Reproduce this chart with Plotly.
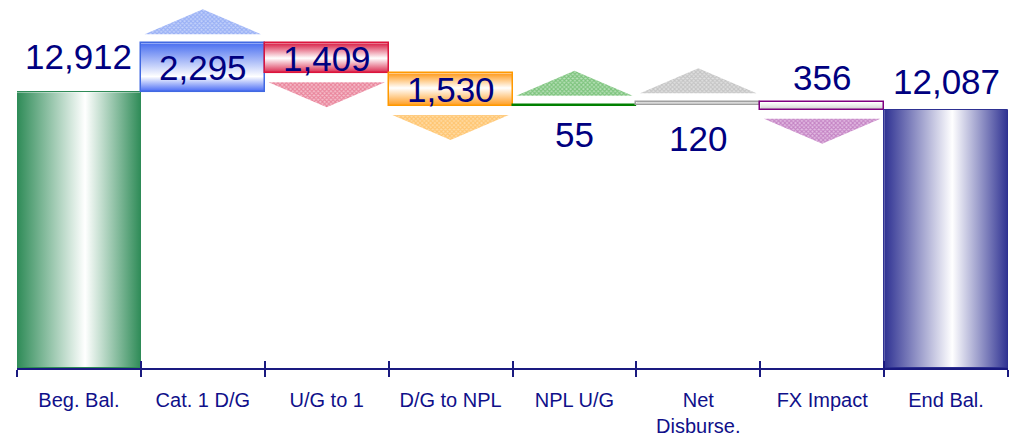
import base64
import plotly.graph_objects as go

# ---- data ----
categories = ["Beg. Bal.", "Cat. 1 D/G", "U/G to 1", "D/G to NPL",
              "NPL U/G", "Net<br>Disburse.", "FX Impact", "End Bal."]
amounts = [12912, 2295, -1409, -1530, 55, 120, -356, 12087]
is_total = [True, False, False, False, False, False, False, True]

# ---- styling ----
NAVY = "#000080"
FONT = "Liberation Sans"
edge_colors = ["#2e8b57", "#4169e1", "#dc143c", "#ff9900",
               "#008000", "#a0a0a0", "#800080", "#2e3192"]
# gradient stops (offset, colour) and direction for each bar
gradients = [
    ("h", [(0, "#2e8b57"), (0.55, "#ffffff"), (1, "#2e8b57")]),
    ("v", [(0, "#4a6ff0"), (0.68, "#ffffff"), (1, "#3f63f5")]),
    ("v", [(0, "#d81e45"), (0.5, "#ffffff"), (1, "#d81e45")]),
    ("v", [(0, "#ff9a1a"), (0.45, "#ffffff"), (1, "#ff9a1a")]),
    ("v", [(0, "#008000"), (1, "#008000")]),
    ("v", [(0, "#b0b0b0"), (0.5, "#f4f4f4"), (1, "#b0b0b0")]),
    ("v", [(0, "#ffffff"), (0.5, "#e8e8e8"), (1, "#c8c8c8")]),
    ("h", [(0, "#2e3192"), (0.55, "#ffffff"), (1, "#2e3192")]),
]
edge_widths = [1, 1.5, 1.5, 1.5, 1.5, 1.5, 1.5, 1]
# (dot colour, background tint) of the dithered arrow fills
arrow_colors = [None,
                ("#6f8ff0", "#c3d1fa"),
                ("#de4a6c", "#f5bfcb"),
                ("#ffad3a", "#ffdca6"),
                ("#3fa53f", "#b8e0b8"),
                ("#a8a8a8", "#e0e0e0"),
                ("#a64ca6", "#e3bde3"),
                None]
label_pos = ["above", "inside", "inside", "inside", "below", "below", "above", "above"]
label_gap_px = [36, 0, 0, 0, 29, 34, 25, 28]

# ---- geometry ----
W, H = 1020, 443
M_L, M_R, M_T, M_B = 17, 12, 0, 75
plot_h = H - M_T - M_B
y_max = 17228
ppu = plot_h / y_max          # pixels per unit on the value axis

bases, heights = [], []
running = 0
for v, tot in zip(amounts, is_total):
    if tot:
        bases.append(0)
        heights.append(v)
        running = v
    elif v >= 0:
        bases.append(running)
        heights.append(v)
        running += v
    else:
        running += v
        bases.append(running)
        heights.append(-v)


def gradient_uri(direction, stops):
    x2, y2 = ("1", "0") if direction == "h" else ("0", "1")
    stop_xml = "".join(
        f'<stop offset="{o}" stop-color="{c}"/>' for o, c in stops)
    svg = ('<svg xmlns="http://www.w3.org/2000/svg" width="100" height="100" '
           'viewBox="0 0 100 100" preserveAspectRatio="none">'
           f'<defs><linearGradient id="g" x1="0" y1="0" x2="{x2}" y2="{y2}">'
           f'{stop_xml}</linearGradient></defs>'
           '<rect width="100" height="100" fill="url(#g)"/></svg>')
    return "data:image/svg+xml;base64," + base64.b64encode(svg.encode()).decode()


fig = go.Figure()

# bar outlines (fill comes from the gradient images underneath)
fig.add_trace(go.Bar(
    x=categories, y=heights, base=bases, width=1,
    marker=dict(color="rgba(0,0,0,0)",
                line=dict(color=edge_colors, width=edge_widths)),
    hoverinfo="skip", showlegend=False,
))

images = []
for i, (b, h) in enumerate(zip(bases, heights)):
    direction, stops = gradients[i]
    images.append(dict(
        source=gradient_uri(direction, stops), xref="x", yref="y",
        x=i - 0.5, y=b + h, sizex=1, sizey=h,
        xanchor="left", yanchor="top", sizing="stretch", layer="below",
    ))

# direction arrows for the movements
arrow_gap, arrow_h, arrow_hw = 9 / ppu, 25 / ppu, 0.47
for i, v in enumerate(amounts):
    if is_total[i]:
        continue
    if v >= 0:
        y0 = bases[i] + heights[i] + arrow_gap
        y1 = y0 + arrow_h
    else:
        y0 = bases[i] - arrow_gap
        y1 = y0 - arrow_h
    fg, bg = arrow_colors[i]
    fig.add_trace(go.Scatter(
        x=[i - arrow_hw, i + arrow_hw, i, i - arrow_hw],
        y=[y0, y0, y1, y0],
        xaxis="x2", mode="lines", line=dict(width=0),
        fill="toself", fillcolor=bg,
        fillpattern=dict(shape="x", size=3, solidity=0.6,
                         fgcolor=fg, bgcolor=bg),
        hoverinfo="skip", showlegend=False,
    ))

# value labels
annotations = []
for i, v in enumerate(amounts):
    b, h = bases[i], heights[i]
    pos = label_pos[i]
    if pos == "above":
        y, shift = b + h, label_gap_px[i]
    elif pos == "below":
        y, shift = b, -label_gap_px[i]
    else:
        y, shift = b + h / 2, 0
    annotations.append(dict(
        x=i, y=y, xref="x2", yref="y", yshift=shift,
        text=f"{abs(v):,}", showarrow=False,
        xanchor="center", yanchor="middle",
        font=dict(family=FONT, size=35, color=NAVY),
    ))

fig.update_layout(
    width=W, height=H,
    margin=dict(l=M_L, r=M_R, t=M_T, b=M_B),
    paper_bgcolor="white", plot_bgcolor="rgba(0,0,0,0)",
    bargap=0, showlegend=False,
    images=images, annotations=annotations,
    xaxis=dict(
        type="category", categoryorder="array", categoryarray=categories,
        range=[-0.5, len(categories) - 0.5],
        tickson="boundaries", ticks="outside", ticklen=7,
        tickcolor="#1a1a80", tickwidth=1.5,
        showline=True, linecolor="#1a1a80", linewidth=2,
        showgrid=False, zeroline=False,
        tickfont=dict(family=FONT, size=20, color="#10108a"),
        ticklabelstandoff=13,
    ),
    xaxis2=dict(
        overlaying="x", anchor="y", side="bottom",
        range=[-0.5, len(categories) - 0.5],
        tickvals=[k - 0.5 for k in range(len(categories) + 1)],
        ticks="inside", ticklen=7, tickcolor="#1a1a80", tickwidth=1.5,
        showticklabels=False, showgrid=False, zeroline=False, showline=False,
    ),
    yaxis=dict(range=[0, y_max], visible=False, fixedrange=True),
)

fig.write_html("out.html")
